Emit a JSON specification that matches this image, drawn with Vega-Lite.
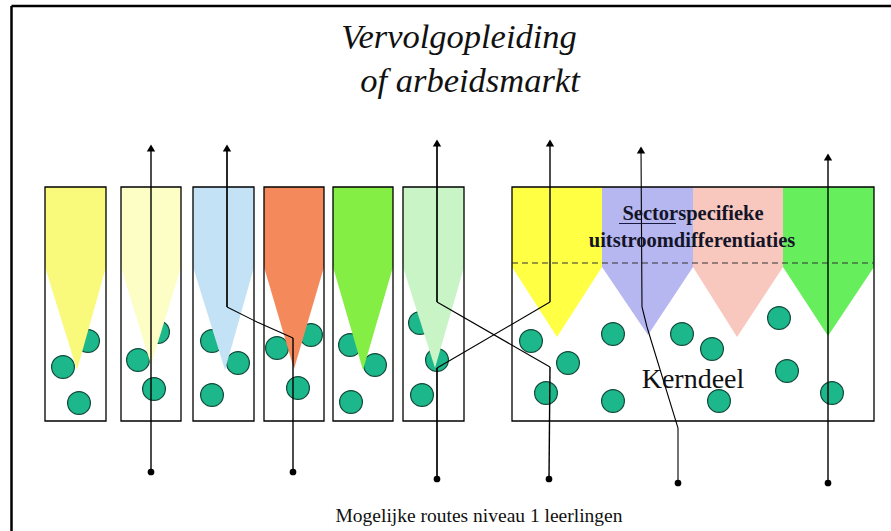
{
  "$schema": "https://vega.github.io/schema/vega-lite/v6.json",
  "width": 891,
  "height": 531,
  "autosize": {"type": "none"},
  "padding": 0,
  "background": "white",
  "config": {"view": {"stroke": null}},
  "datasets": {
    "frame": [
      {"x": 11.5, "y": 6, "x2": 11.5, "y2": 531},
      {"x": 11.5, "y": 6, "x2": 891, "y2": 6}
    ],
    "boxes": [
      {"b": "1", "x": 45, "x2": 106, "y": 187, "y2": 421},
      {"b": "2", "x": 121, "x2": 181, "y": 187, "y2": 421},
      {"b": "3", "x": 193, "x2": 254, "y": 187, "y2": 421},
      {"b": "4", "x": 264, "x2": 324, "y": 187, "y2": 421},
      {"b": "5", "x": 333, "x2": 393, "y": 187, "y2": 421},
      {"b": "6", "x": 403, "x2": 464, "y": 187, "y2": 421},
      {"b": "K", "x": 512, "x2": 874, "y": 187, "y2": 421}
    ],
    "shapes": [
      {"s": "b1", "x": 45, "y": 267, "top": 187}, {"s": "b1", "x": 77, "y": 370, "top": 187}, {"s": "b1", "x": 106, "y": 267, "top": 187},
      {"s": "b2", "x": 121, "y": 267, "top": 187}, {"s": "b2", "x": 151, "y": 365, "top": 187}, {"s": "b2", "x": 181, "y": 267, "top": 187},
      {"s": "b3", "x": 193, "y": 267, "top": 187}, {"s": "b3", "x": 225, "y": 370, "top": 187}, {"s": "b3", "x": 254, "y": 267, "top": 187},
      {"s": "b4", "x": 264, "y": 267, "top": 187}, {"s": "b4", "x": 294, "y": 369, "top": 187}, {"s": "b4", "x": 324, "y": 267, "top": 187},
      {"s": "b5", "x": 333, "y": 267, "top": 187}, {"s": "b5", "x": 363, "y": 370, "top": 187}, {"s": "b5", "x": 393, "y": 267, "top": 187},
      {"s": "b6", "x": 403, "y": 267, "top": 187}, {"s": "b6", "x": 435, "y": 368, "top": 187}, {"s": "b6", "x": 464, "y": 267, "top": 187},
      {"s": "k1", "x": 512, "y": 267, "top": 187}, {"s": "k1", "x": 557, "y": 337, "top": 187}, {"s": "k1", "x": 602, "y": 267, "top": 187},
      {"s": "k2", "x": 602, "y": 267, "top": 187}, {"s": "k2", "x": 648, "y": 335, "top": 187}, {"s": "k2", "x": 693, "y": 267, "top": 187},
      {"s": "k3", "x": 693, "y": 267, "top": 187}, {"s": "k3", "x": 737, "y": 337, "top": 187}, {"s": "k3", "x": 783, "y": 267, "top": 187},
      {"s": "k4", "x": 783, "y": 267, "top": 187}, {"s": "k4", "x": 828, "y": 336, "top": 187}, {"s": "k4", "x": 874, "y": 267, "top": 187}
    ],
    "circles": [
      {"x": 88, "y": 341}, {"x": 63, "y": 367}, {"x": 79, "y": 403},
      {"x": 158, "y": 332}, {"x": 138, "y": 360}, {"x": 154, "y": 389},
      {"x": 212, "y": 341}, {"x": 238, "y": 363}, {"x": 212, "y": 395},
      {"x": 277, "y": 348}, {"x": 311, "y": 335}, {"x": 298, "y": 388},
      {"x": 350, "y": 345}, {"x": 375, "y": 365}, {"x": 351, "y": 402},
      {"x": 420, "y": 323}, {"x": 437, "y": 360}, {"x": 422, "y": 395},
      {"x": 531, "y": 341}, {"x": 568, "y": 363}, {"x": 546, "y": 393},
      {"x": 613, "y": 334}, {"x": 613, "y": 401}, {"x": 682, "y": 334},
      {"x": 712, "y": 349}, {"x": 719, "y": 401}, {"x": 779, "y": 318},
      {"x": 787, "y": 371}, {"x": 832, "y": 393}
    ],
    "dash": [
      {"x": 512, "y": 263, "x2": 874, "y2": 263}
    ],
    "underline": [
      {"x": 619, "y": 223.5, "x2": 676, "y2": 223.5}
    ],
    "routes": [
      {"seg": "r1", "w": "medium", "o": 1, "x": 151, "y": 472}, {"seg": "r1", "w": "medium", "o": 2, "x": 151, "y": 146},
      {"seg": "r2a", "w": "medium", "o": 1, "x": 293, "y": 472}, {"seg": "r2a", "w": "medium", "o": 2, "x": 293, "y": 338},
      {"seg": "r2b", "w": "thin", "o": 1, "x": 293, "y": 338}, {"seg": "r2b", "w": "thin", "o": 2, "x": 257, "y": 322}, {"seg": "r2b", "w": "thin", "o": 3, "x": 227, "y": 307},
      {"seg": "r2c", "w": "thick", "o": 1, "x": 227, "y": 307}, {"seg": "r2c", "w": "thick", "o": 2, "x": 227, "y": 146},
      {"seg": "r3a", "w": "thick", "o": 1, "x": 437, "y": 479}, {"seg": "r3a", "w": "thick", "o": 2, "x": 437, "y": 368},
      {"seg": "r3b", "w": "thin", "o": 1, "x": 437, "y": 368}, {"seg": "r3b", "w": "thin", "o": 2, "x": 550, "y": 302},
      {"seg": "r3c", "w": "medium", "o": 1, "x": 550, "y": 302}, {"seg": "r3c", "w": "medium", "o": 2, "x": 550, "y": 141},
      {"seg": "r4a", "w": "medium", "o": 1, "x": 549, "y": 479}, {"seg": "r4a", "w": "medium", "o": 2, "x": 550, "y": 367},
      {"seg": "r4b", "w": "thin", "o": 1, "x": 550, "y": 367}, {"seg": "r4b", "w": "thin", "o": 2, "x": 437, "y": 302},
      {"seg": "r4c", "w": "thick", "o": 1, "x": 437, "y": 302}, {"seg": "r4c", "w": "thick", "o": 2, "x": 437, "y": 141},
      {"seg": "r5", "w": "thin", "o": 1, "x": 678, "y": 483}, {"seg": "r5", "w": "thin", "o": 2, "x": 678, "y": 428}, {"seg": "r5", "w": "thin", "o": 3, "x": 647, "y": 327}, {"seg": "r5", "w": "thin", "o": 4, "x": 642, "y": 307}, {"seg": "r5", "w": "thin", "o": 5, "x": 641, "y": 148},
      {"seg": "r6", "w": "medium", "o": 1, "x": 828, "y": 483}, {"seg": "r6", "w": "medium", "o": 2, "x": 828, "y": 155}
    ],
    "heads": [
      {"x": 151, "y": 148}, {"x": 227, "y": 148}, {"x": 437, "y": 143},
      {"x": 550, "y": 143}, {"x": 641, "y": 150}, {"x": 828, "y": 157}
    ],
    "dots": [
      {"x": 151, "y": 472}, {"x": 293, "y": 472}, {"x": 437, "y": 479},
      {"x": 549, "y": 479}, {"x": 678, "y": 483}, {"x": 828, "y": 483}
    ],
    "title": [
      {"x": 459, "y": 48, "t": "Vervolgopleiding"},
      {"x": 470, "y": 92, "t": "of arbeidsmarkt"}
    ],
    "sector": [
      {"x": 693, "y": 220, "t": "Sectorspecifieke"},
      {"x": 692, "y": 247, "t": "uitstroomdifferentiaties"}
    ],
    "kern": [
      {"x": 693, "y": 388, "t": "Kerndeel"}
    ],
    "foot": [
      {"x": 479, "y": 522, "t": "Mogelijke routes niveau 1 leerlingen"}
    ]
  },
  "layer": [
    {
      "data": {"name": "frame"},
      "mark": {"type": "rule", "color": "black", "strokeWidth": 2.5},
      "encoding": {
        "x": {"field": "x", "type": "quantitative", "scale": {"domain": [0, 891], "nice": false, "zero": false}, "axis": null},
        "y": {"field": "y", "type": "quantitative", "scale": {"domain": [0, 531], "reverse": true, "nice": false, "zero": false}, "axis": null},
        "x2": {"field": "x2"},
        "y2": {"field": "y2"}
      }
    },
    {
      "data": {"name": "circles"},
      "mark": {"type": "point", "shape": "circle", "filled": true, "size": 520, "fill": "#1cb78a", "stroke": "#12493a", "strokeWidth": 1.2, "opacity": 1},
      "encoding": {
        "x": {"field": "x", "type": "quantitative", "scale": {"domain": [0, 891], "nice": false, "zero": false}, "axis": null},
        "y": {"field": "y", "type": "quantitative", "scale": {"domain": [0, 531], "reverse": true, "nice": false, "zero": false}, "axis": null}
      }
    },
    {
      "data": {"name": "shapes"},
      "mark": {"type": "area", "opacity": 1},
      "encoding": {
        "x": {"field": "x", "type": "quantitative", "scale": {"domain": [0, 891], "nice": false, "zero": false}, "axis": null},
        "y": {"field": "y", "type": "quantitative", "scale": {"domain": [0, 531], "reverse": true, "nice": false, "zero": false}, "axis": null},
        "y2": {"field": "top"},
        "detail": {"field": "s"},
        "color": {
          "field": "s", "type": "nominal", "legend": null,
          "scale": {
            "domain": ["b1", "b2", "b3", "b4", "b5", "b6", "k1", "k2", "k3", "k4"],
            "range": ["#f9f97c", "#fdfdc6", "#c4e2f6", "#f48a5c", "#84ee44", "#c8f4c6", "#ffff44", "#b6b6f0", "#f8c8be", "#66ee5c"]
          }
        }
      }
    },
    {
      "data": {"name": "boxes"},
      "mark": {"type": "rect", "fill": null, "fillOpacity": 0, "stroke": "black", "strokeWidth": 1.3},
      "encoding": {
        "x": {"field": "x", "type": "quantitative", "scale": {"domain": [0, 891], "nice": false, "zero": false}, "axis": null},
        "y": {"field": "y", "type": "quantitative", "scale": {"domain": [0, 531], "reverse": true, "nice": false, "zero": false}, "axis": null},
        "x2": {"field": "x2"},
        "y2": {"field": "y2"}
      }
    },
    {
      "data": {"name": "dash"},
      "mark": {"type": "rule", "color": "#333333", "strokeWidth": 1.2, "strokeDash": [6, 4]},
      "encoding": {
        "x": {"field": "x", "type": "quantitative", "scale": {"domain": [0, 891], "nice": false, "zero": false}, "axis": null},
        "y": {"field": "y", "type": "quantitative", "scale": {"domain": [0, 531], "reverse": true, "nice": false, "zero": false}, "axis": null},
        "x2": {"field": "x2"},
        "y2": {"field": "y2"}
      }
    },
    {
      "data": {"name": "routes"},
      "mark": {"type": "line", "color": "black", "strokeJoin": "miter", "strokeCap": "butt"},
      "encoding": {
        "x": {"field": "x", "type": "quantitative", "scale": {"domain": [0, 891], "nice": false, "zero": false}, "axis": null},
        "y": {"field": "y", "type": "quantitative", "scale": {"domain": [0, 531], "reverse": true, "nice": false, "zero": false}, "axis": null},
        "order": {"field": "o", "type": "quantitative"},
        "detail": {"field": "seg"},
        "strokeWidth": {"field": "w", "type": "nominal", "legend": null, "scale": {"domain": ["thin", "medium", "thick"], "range": [1.1, 1.7, 2.8]}}
      }
    },
    {
      "data": {"name": "heads"},
      "mark": {"type": "point", "shape": "triangle-up", "filled": true, "size": 70, "color": "black", "opacity": 1},
      "encoding": {
        "x": {"field": "x", "type": "quantitative", "scale": {"domain": [0, 891], "nice": false, "zero": false}, "axis": null},
        "y": {"field": "y", "type": "quantitative", "scale": {"domain": [0, 531], "reverse": true, "nice": false, "zero": false}, "axis": null}
      }
    },
    {
      "data": {"name": "dots"},
      "mark": {"type": "point", "shape": "circle", "filled": true, "size": 45, "color": "black", "opacity": 1},
      "encoding": {
        "x": {"field": "x", "type": "quantitative", "scale": {"domain": [0, 891], "nice": false, "zero": false}, "axis": null},
        "y": {"field": "y", "type": "quantitative", "scale": {"domain": [0, 531], "reverse": true, "nice": false, "zero": false}, "axis": null}
      }
    },
    {
      "data": {"name": "underline"},
      "mark": {"type": "rule", "color": "#1a1a40", "strokeWidth": 1.2},
      "encoding": {
        "x": {"field": "x", "type": "quantitative", "scale": {"domain": [0, 891], "nice": false, "zero": false}, "axis": null},
        "y": {"field": "y", "type": "quantitative", "scale": {"domain": [0, 531], "reverse": true, "nice": false, "zero": false}, "axis": null},
        "x2": {"field": "x2"},
        "y2": {"field": "y2"}
      }
    },
    {
      "data": {"name": "title"},
      "mark": {"type": "text", "font": "'Liberation Serif', 'DejaVu Serif', serif", "fontStyle": "italic", "fontSize": 34.5, "align": "center", "baseline": "alphabetic", "color": "#111111"},
      "encoding": {
        "x": {"field": "x", "type": "quantitative", "scale": {"domain": [0, 891], "nice": false, "zero": false}, "axis": null},
        "y": {"field": "y", "type": "quantitative", "scale": {"domain": [0, 531], "reverse": true, "nice": false, "zero": false}, "axis": null},
        "text": {"field": "t"}
      }
    },
    {
      "data": {"name": "sector"},
      "mark": {"type": "text", "font": "'Liberation Serif', 'DejaVu Serif', serif", "fontWeight": "bold", "fontSize": 20.5, "align": "center", "baseline": "alphabetic", "color": "#141428"},
      "encoding": {
        "x": {"field": "x", "type": "quantitative", "scale": {"domain": [0, 891], "nice": false, "zero": false}, "axis": null},
        "y": {"field": "y", "type": "quantitative", "scale": {"domain": [0, 531], "reverse": true, "nice": false, "zero": false}, "axis": null},
        "text": {"field": "t"}
      }
    },
    {
      "data": {"name": "kern"},
      "mark": {"type": "text", "font": "'Liberation Serif', 'DejaVu Serif', serif", "fontSize": 28, "align": "center", "baseline": "alphabetic", "color": "#111111"},
      "encoding": {
        "x": {"field": "x", "type": "quantitative", "scale": {"domain": [0, 891], "nice": false, "zero": false}, "axis": null},
        "y": {"field": "y", "type": "quantitative", "scale": {"domain": [0, 531], "reverse": true, "nice": false, "zero": false}, "axis": null},
        "text": {"field": "t"}
      }
    },
    {
      "data": {"name": "foot"},
      "mark": {"type": "text", "font": "'Liberation Serif', 'DejaVu Serif', serif", "fontSize": 19.5, "align": "center", "baseline": "alphabetic", "color": "#111111"},
      "encoding": {
        "x": {"field": "x", "type": "quantitative", "scale": {"domain": [0, 891], "nice": false, "zero": false}, "axis": null},
        "y": {"field": "y", "type": "quantitative", "scale": {"domain": [0, 531], "reverse": true, "nice": false, "zero": false}, "axis": null},
        "text": {"field": "t"}
      }
    }
  ]
}
